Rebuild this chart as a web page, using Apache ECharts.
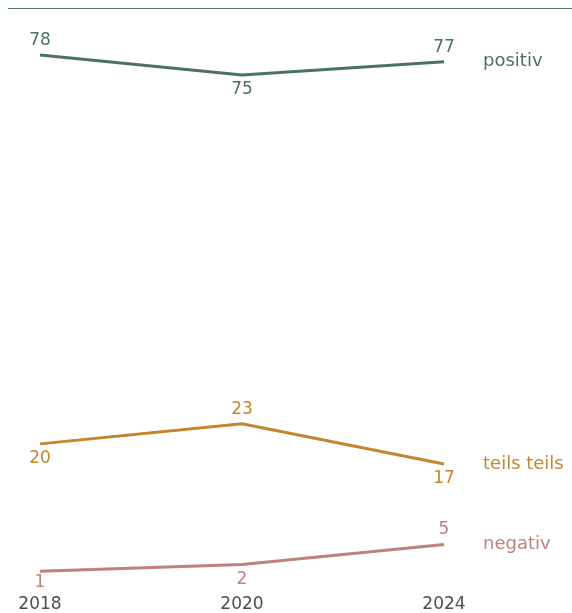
<!DOCTYPE html>
<html>
<head>
<meta charset="utf-8">
<script src="https://cdn.jsdelivr.net/npm/echarts@6/dist/echarts.min.js"></script>
<style>
  html, body { margin: 0; padding: 0; background: #fff; }
  #chart { width: 572px; height: 613px; }
</style>
</head>
<body>
<div id="chart"></div>
<script>
// Survey years on the x axis
const years = ['2018', '2020', '2024'];

// Share of answers per year (%)
const positiv = [78, 75, 77];
const teilsTeils = [20, 23, 17];
const negativ = [1, 2, 5];

// Where each value label sits relative to its point
const positivPos = ['top', 'bottom', 'top'];
const teilsPos = ['bottom', 'top', 'bottom'];
const negativPos = ['bottom', 'bottom', 'top'];

const FONT = '"DejaVu Sans", sans-serif';

function makeSeries(name, values, positions, color) {
  return {
    name: name,
    type: 'line',
    data: values.map((v, i) => ({
      value: v,
      label: {
        position: positions[i],
        distance: (name === 'negativ' && i === 0) ? 3 : 6
      }
    })),
    symbol: 'circle',
    symbolSize: 0,
    showSymbol: true,
    lineStyle: { color: color, width: 3 },
    itemStyle: { color: color },
    label: {
      show: true,
      color: color,
      fontFamily: FONT,
      fontSize: 17
    },
    endLabel: {
      show: true,
      formatter: name,
      color: color,
      fontFamily: FONT,
      fontSize: 18,
      distance: 39
    },
    emphasis: { disabled: true }
  };
}

const chart = echarts.init(document.getElementById('chart'), null, { renderer: 'canvas' });
chart.setOption({
  animation: false,
  grid: { left: 40, right: 128, top: 8, bottom: 35 },
  xAxis: {
    type: 'category',
    data: years,
    boundaryGap: false,
    axisLine: { show: false },
    axisTick: { show: false },
    axisLabel: {
      color: '#4d4d4d',
      fontFamily: FONT,
      fontSize: 17,
      margin: 18
    }
  },
  yAxis: {
    type: 'value',
    min: 0,
    max: 85,
    show: false
  },
  graphic: [{
    type: 'line',
    shape: { x1: 8, y1: 8.5, x2: 572, y2: 8.5 },
    style: { stroke: '#4f7a68', lineWidth: 1 }
  }],
  series: [
    makeSeries('positiv', positiv, positivPos, '#4a7261'),
    makeSeries('teils teils', teilsTeils, teilsPos, '#c4852d'),
    makeSeries('negativ', negativ, negativPos, '#bf817d')
  ]
});
</script>
</body>
</html>
